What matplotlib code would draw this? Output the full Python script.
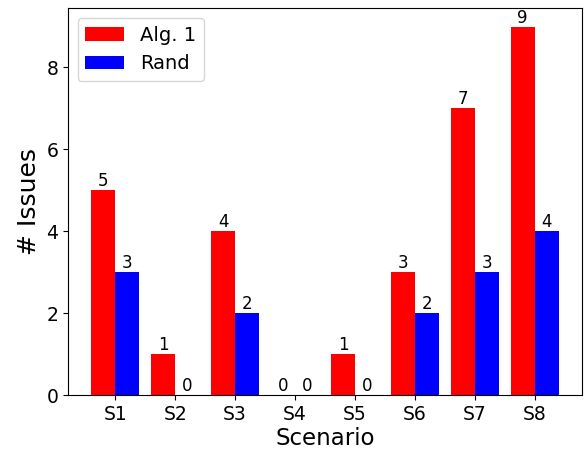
import matplotlib
matplotlib.use("Agg")
import matplotlib.pyplot as plt
import numpy as np

categories = ["S1", "S2", "S3", "S4", "S5", "S6", "S7", "S8"]
alg1 = [5, 1, 4, 0, 1, 3, 7, 9]
rand = [3, 0, 2, 0, 0, 2, 3, 4]

fig = plt.figure(figsize=(5.85, 4.51), dpi=100)
ax = fig.add_axes([0.116, 0.124, 0.879, 0.858])
x = np.arange(len(categories))
w = 0.4
b1 = ax.bar(x - w/2, alg1, w, color="red", label="Alg. 1")
b2 = ax.bar(x + w/2, rand, w, color="blue", label="Rand")
ax.bar_label(b1, fontsize=12)
ax.bar_label(b2, fontsize=12)
ax.set_xticks(x)
ax.set_xticklabels(categories)
ax.tick_params(labelsize=13.5)
ax.set_xlabel("Scenario", fontsize=16.5, labelpad=2)
ax.set_ylabel("# Issues", fontsize=18)
ax.set_yticks([0, 2, 4, 6, 8])
ax.legend(loc="upper left", fontsize=14)
fig.savefig("out.png", dpi=100)
